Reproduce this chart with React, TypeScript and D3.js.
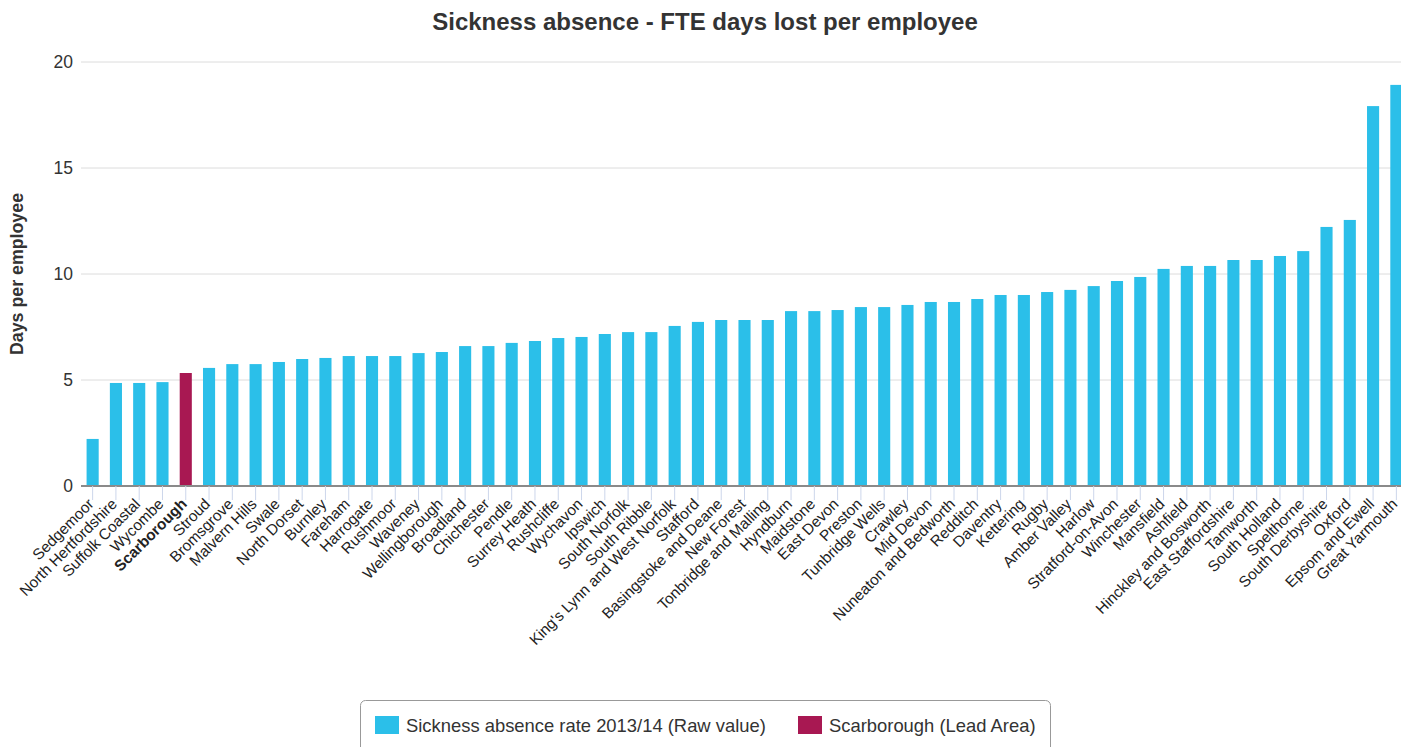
import React, { useEffect, useRef } from 'react';
import * as d3 from 'd3';

const areas: string[] = [
    'Sedgemoor', 'North Hertfordshire', 'Suffolk Coastal', 'Wycombe', 'Scarborough', 'Stroud',
    'Bromsgrove', 'Malvern Hills', 'Swale', 'North Dorset', 'Burnley', 'Fareham', 'Harrogate',
    'Rushmoor', 'Waveney', 'Wellingborough', 'Broadland', 'Chichester', 'Pendle', 'Surrey Heath',
    'Rushcliffe', 'Wychavon', 'Ipswich', 'South Norfolk', 'South Ribble', "King's Lynn and West Norfolk",
    'Stafford', 'Basingstoke and Deane', 'New Forest', 'Tonbridge and Malling', 'Hyndburn', 'Maidstone',
    'East Devon', 'Preston', 'Tunbridge Wells', 'Crawley', 'Mid Devon', 'Nuneaton and Bedworth',
    'Redditch', 'Daventry', 'Kettering', 'Rugby', 'Amber Valley', 'Harlow', 'Stratford-on-Avon',
    'Winchester', 'Mansfield', 'Ashfield', 'Hinckley and Bosworth', 'East Staffordshire', 'Tamworth',
    'South Holland', 'Spelthorne', 'South Derbyshire', 'Oxford', 'Epsom and Ewell', 'Great Yarmouth',
];

const daysLost: number[] = [
    2.22, 4.86, 4.86, 4.9, 5.33, 5.57,
    5.75, 5.75, 5.85, 5.99, 6.04, 6.13, 6.13,
    6.13, 6.27, 6.32, 6.6, 6.6, 6.75, 6.84,
    6.98, 7.03, 7.17, 7.26, 7.26, 7.55,
    7.74, 7.83, 7.83, 7.83, 8.25, 8.25,
    8.3, 8.44, 8.44, 8.54, 8.68, 8.68,
    8.82, 9.01, 9.01, 9.15, 9.25, 9.43, 9.67,
    9.86, 10.24, 10.38, 10.38, 10.66, 10.66,
    10.85, 11.08, 12.22, 12.55, 17.92, 18.92,
];

const leadArea = 'Scarborough';
const yTicks: number[] = [0, 5, 10, 15, 20];
const legendItems: string[] = ['Sickness absence rate 2013/14 (Raw value)', 'Scarborough (Lead Area)'];

const BLUE = '#2bbfe9';
const RED = '#a81852';
const FONT = '"Liberation Sans", Arial, sans-serif';

const App: React.FC = () => {
    const svgRef = useRef<SVGSVGElement | null>(null);
    const width = 1401;
    const height = 747;

    useEffect(() => {
        const margin = { top: 62, right: -7, bottom: 261, left: 81 };
        const svg = d3.select(svgRef.current)
            .attr('width', width)
            .attr('height', height);

        svg.selectAll('*').remove();

        const data = areas.map((name, i) => ({ name, value: daysLost[i] }));

        const xScale = d3.scaleBand<string>()
            .domain(areas)
            .range([margin.left, width - margin.right])
            .paddingInner(0.48)
            .paddingOuter(0.24);

        const yScale = d3.scaleLinear()
            .domain([0, 20])
            .range([height - margin.bottom, margin.top]);

        // grid lines
        svg.append('g')
            .selectAll('line')
            .data(yTicks.filter(t => t > 0))
            .join('line')
            .attr('x1', margin.left)
            .attr('x2', width)
            .attr('y1', d => yScale(d))
            .attr('y2', d => yScale(d))
            .attr('stroke', '#dcdcdc')
            .attr('stroke-width', 1);

        // y labels
        svg.append('g')
            .selectAll('text')
            .data(yTicks)
            .join('text')
            .attr('x', 73)
            .attr('y', d => yScale(d) + 6)
            .attr('text-anchor', 'end')
            .attr('font-family', FONT)
            .attr('font-size', 17.5)
            .attr('fill', '#333')
            .text(d => d);

        // bars
        svg.append('g')
            .selectAll('rect')
            .data(data)
            .join('rect')
            .attr('x', d => xScale(d.name) as number)
            .attr('y', d => yScale(d.value))
            .attr('width', xScale.bandwidth())
            .attr('height', d => yScale(0) - yScale(d.value))
            .attr('fill', d => d.name === leadArea ? RED : BLUE);

        // x axis
        const xAxis = d3.axisBottom(xScale).tickSize(14).tickSizeOuter(0).tickFormat(() => '');
        const gx = svg.append('g')
            .attr('transform', `translate(0,${yScale(0)})`)
            .call(xAxis);
        gx.select('.domain').attr('stroke', '#8a8a8a').attr('stroke-width', 2)
            .attr('d', `M${margin.left},0H${width}`);
        gx.selectAll('.tick line').attr('stroke', '#ccd6eb');

        // rotated category labels
        svg.append('g')
            .selectAll('text')
            .data(data)
            .join('text')
            .attr('transform', d => `translate(${(xScale(d.name) as number) + xScale.bandwidth() / 2 + 2},${yScale(0) + 19}) rotate(-45)`)
            .attr('text-anchor', 'end')
            .attr('font-family', FONT)
            .attr('font-size', 15.3)
            .attr('font-weight', d => d.name === leadArea ? 'bold' : 'normal')
            .attr('fill', '#222')
            .text(d => d.name);

        // title
        svg.append('text')
            .attr('x', 705)
            .attr('y', 30)
            .attr('text-anchor', 'middle')
            .attr('font-family', FONT)
            .attr('font-size', 24)
            .attr('font-weight', 'bold')
            .attr('fill', '#333')
            .text('Sickness absence - FTE days lost per employee');

        // y axis title
        svg.append('text')
            .attr('transform', `translate(23,${(yScale(0) + yScale(20)) / 2}) rotate(-90)`)
            .attr('text-anchor', 'middle')
            .attr('font-family', FONT)
            .attr('font-size', 17.8)
            .attr('font-weight', 'bold')
            .attr('fill', '#333')
            .text('Days per employee');

        // legend
        const legend = svg.append('g');
        legend.append('rect')
            .attr('x', 360.5)
            .attr('y', 700.5)
            .attr('width', 690)
            .attr('height', 60)
            .attr('rx', 5)
            .attr('fill', 'none')
            .attr('stroke', '#999');

        const legendX = [375, 798];
        legendItems.forEach((label, i) => {
            legend.append('rect')
                .attr('x', legendX[i])
                .attr('y', 716)
                .attr('width', 24)
                .attr('height', 18)
                .attr('fill', i === 0 ? BLUE : RED);
            legend.append('text')
                .attr('x', legendX[i] + 31)
                .attr('y', 732)
                .attr('font-family', FONT)
                .attr('font-size', 18.4)
                .attr('fill', '#333')
                .text(label);
        });
    }, []);

    return <svg ref={svgRef} style={{ position: 'absolute', left: 0, top: 0 }}></svg>;
};

export default App;
